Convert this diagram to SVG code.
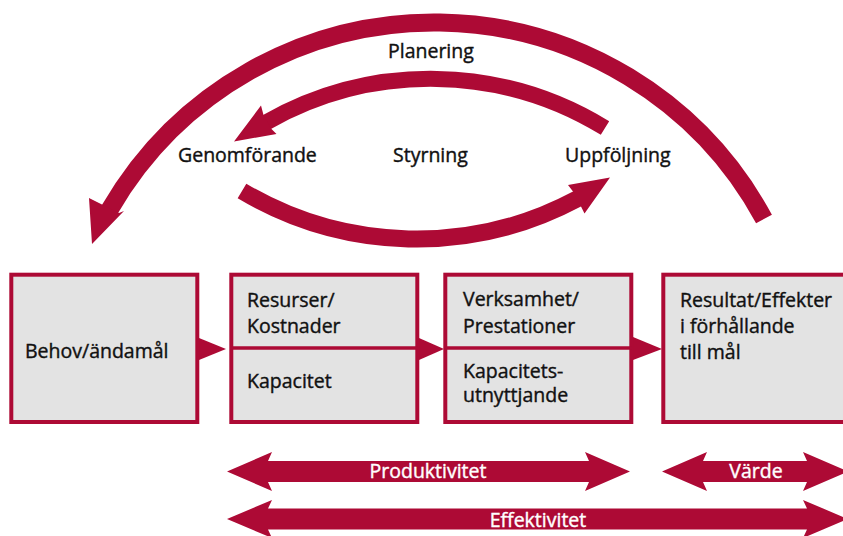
<svg xmlns="http://www.w3.org/2000/svg" width="843" height="536" viewBox="0 0 843 536">
<style>
.box{fill:#e3e3e3;stroke:#ad0a35;stroke-width:4}
.div{stroke:#ad0a35;stroke-width:3.5}
.red{fill:#ad0a35}
.arc{fill:none;stroke:#ad0a35;stroke-linejoin:round}
.t{font-family:"Open Sans","Liberation Sans",sans-serif;font-size:19.5px;fill:#111;stroke:#111;stroke-width:0.4}
.w{font-family:"Open Sans","Liberation Sans",sans-serif;font-size:19.5px;fill:#fff;stroke:#fff;stroke-width:0.4}
</style>
<rect width="843" height="536" fill="#fff"/>
<g id="connectors">
  <path class="arc" stroke-width="18" d="M 764 219 A 375 375 0 0 0 110 209 L 107 214.2"/>
  <polygon class="red" points="92,244 89,198 99,203 119,213 124,211"/>
  <path class="arc" stroke-width="16" d="M 605 128 A 333 333 0 0 0 267 122 L 262 125"/>
  <polygon class="red" points="234,141.5 261,105.5 263.5,115 271.5,129 276.5,134"/>
  <path class="arc" stroke-width="17" d="M 242 191 A 341.5 341.5 0 0 0 577 199 L 582 196.5"/>
  <polygon class="red" points="610,177.5 568,185 573,191.5 581,206.5 584.5,213.5"/>
  <polygon class="red" points="199,338 226,349 199,360"/>
  <polygon class="red" points="419,338 444,349 419,360"/>
  <polygon class="red" points="633,337 662,349 633,360"/>
</g>
<g id="labels">
  <text class="t" x="388" y="58">Planering</text>
  <text class="t" x="178" y="162">Genomförande</text>
  <text class="t" x="393" y="162">Styrning</text>
  <text class="t" x="565" y="162">Uppföljning</text>
</g>
<g id="behov">
  <rect class="box" x="11.3" y="274.7" width="186" height="147.3"/>
  <text class="t" x="25" y="358">Behov/ändamål</text>
</g>
<g id="resurser">
  <rect class="box" x="231.3" y="274.7" width="186" height="147.3"/>
  <line class="div" x1="231" y1="348" x2="418" y2="348"/>
  <text class="t" x="247" y="307">Resurser/</text>
  <text class="t" x="247" y="333">Kostnader</text>
  <text class="t" x="247" y="388">Kapacitet</text>
</g>
<g id="verksamhet">
  <rect class="box" x="445.3" y="274.7" width="186" height="147.3"/>
  <line class="div" x1="445" y1="348" x2="632" y2="348"/>
  <text class="t" x="463" y="306">Verksamhet/</text>
  <text class="t" x="463" y="333">Prestationer</text>
  <text class="t" x="463" y="377.5">Kapacitets-</text>
  <text class="t" x="463" y="402">utnyttjande</text>
</g>
<g id="resultat">
  <rect class="box" x="663.3" y="274.7" width="200" height="147.3"/>
  <text class="t" x="680" y="307">Resultat/Effekter</text>
  <text class="t" x="680" y="333">i förhållande</text>
  <text class="t" x="680" y="359">till mål</text>
</g>
<g id="produktivitet">
  <polygon class="red" points="227,471.5 272,452 268,461 589,461 585,452 630,471.5 585,491 589,482 268,482 272,491"/>
  <text class="w" x="428" y="478" text-anchor="middle">Produktivitet</text>
</g>
<g id="varde">
  <polygon class="red" points="662,471.5 707,452 703,461 807,461 803,452 848,471.5 803,491 807,482 703,482 707,491"/>
  <text class="w" x="756" y="478" text-anchor="middle">Värde</text>
</g>
<g id="effektivitet">
  <polygon class="red" points="227,519 272,500 268,508.5 807,508.5 803,500 848,519 803,538 807,529.5 268,529.5 272,538"/>
  <text class="w" x="538" y="526.5" text-anchor="middle">Effektivitet</text>
</g>
</svg>
